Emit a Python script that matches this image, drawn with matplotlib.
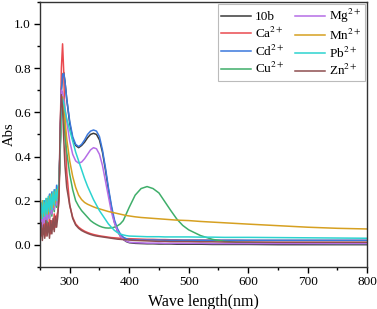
import matplotlib
matplotlib.use("Agg")
import matplotlib.pyplot as plt
from matplotlib.ticker import MultipleLocator

plt.rcParams['font.family'] = ['Liberation Serif', 'DejaVu Serif']
plt.rcParams['mathtext.fontset'] = 'stix'

# wavelength grid (nm)
wl_noise = [250, 252, 254, 256, 258, 260, 262, 264, 266, 268, 270, 272, 274, 276, 278, 280, 282]
wl_main = [284, 286, 288, 290, 292, 295, 300, 305, 310, 315, 320, 325, 330, 335, 340, 345,
           350, 355, 360, 365, 370, 375, 380, 385, 390, 395, 400, 410, 420, 430, 440, 450,
           460, 470, 480, 490, 500, 520, 540, 560, 580, 600, 650, 700, 750, 800]
wavelength = wl_noise + wl_main

abs_10b = ([0.13, 0.17, 0.10, 0.18, 0.12, 0.19, 0.13, 0.20, 0.14, 0.22, 0.16, 0.23, 0.17, 0.24, 0.19, 0.25, 0.27] +
           [0.45, 0.70, 0.77, 0.78, 0.74, 0.66, 0.55, 0.48, 0.45, 0.44, 0.45, 0.465, 0.485, 0.50, 0.505, 0.50,
            0.475, 0.42, 0.34, 0.25, 0.17, 0.105, 0.065, 0.04, 0.025, 0.015, 0.010, 0.007, 0.006, 0.005, 0.005, 0.004,
            0.004, 0.004, 0.003, 0.003, 0.003, 0.003, 0.002, 0.002, 0.002, 0.002, 0.001, 0.001, 0.001, 0.001])
abs_ca = ([0.09, 0.04, 0.11, 0.05, 0.12, 0.04, 0.10, 0.06, 0.13, 0.05, 0.11, 0.07, 0.14, 0.08, 0.13, 0.15, 0.20] +
          [0.50, 0.80, 0.91, 0.78, 0.55, 0.33, 0.18, 0.125, 0.095, 0.08, 0.07, 0.062, 0.056, 0.051, 0.047, 0.044,
           0.041, 0.039, 0.037, 0.035, 0.033, 0.032, 0.031, 0.030, 0.029, 0.028, 0.028, 0.027, 0.026, 0.025, 0.025, 0.024,
           0.024, 0.023, 0.023, 0.022, 0.022, 0.022, 0.021, 0.021, 0.021, 0.020, 0.020, 0.020, 0.020, 0.020])
abs_cd = ([0.16, 0.11, 0.19, 0.12, 0.20, 0.13, 0.21, 0.15, 0.23, 0.16, 0.24, 0.18, 0.25, 0.19, 0.27, 0.21, 0.28] +
          [0.45, 0.70, 0.77, 0.775, 0.74, 0.66, 0.56, 0.49, 0.455, 0.445, 0.455, 0.475, 0.50, 0.515, 0.52, 0.515,
           0.49, 0.43, 0.35, 0.26, 0.18, 0.115, 0.075, 0.05, 0.035, 0.028, 0.024, 0.023, 0.022, 0.022, 0.022, 0.022,
           0.021, 0.021, 0.021, 0.021, 0.021, 0.021, 0.021, 0.021, 0.021, 0.021, 0.021, 0.021, 0.021, 0.021])
abs_cu = ([0.11, 0.16, 0.09, 0.17, 0.11, 0.16, 0.10, 0.18, 0.12, 0.19, 0.13, 0.20, 0.15, 0.22, 0.17, 0.23, 0.25] +
          [0.42, 0.58, 0.63, 0.58, 0.50, 0.42, 0.32, 0.25, 0.20, 0.175, 0.155, 0.14, 0.125, 0.11, 0.10, 0.092,
           0.085, 0.080, 0.077, 0.076, 0.077, 0.080, 0.086, 0.095, 0.11, 0.14, 0.17, 0.225, 0.255, 0.264, 0.255, 0.235,
           0.195, 0.155, 0.117, 0.088, 0.068, 0.042, 0.025, 0.016, 0.012, 0.010, 0.008, 0.007, 0.006, 0.006])
abs_mg = ([0.10, 0.15, 0.08, 0.16, 0.10, 0.17, 0.11, 0.19, 0.12, 0.20, 0.14, 0.21, 0.16, 0.23, 0.18, 0.24, 0.26] +
          [0.50, 0.70, 0.69, 0.66, 0.62, 0.56, 0.47, 0.41, 0.38, 0.37, 0.375, 0.39, 0.41, 0.43, 0.44, 0.435,
           0.41, 0.36, 0.29, 0.22, 0.15, 0.10, 0.065, 0.04, 0.025, 0.017, 0.012, 0.010, 0.009, 0.008, 0.008, 0.008,
           0.007, 0.007, 0.007, 0.007, 0.007, 0.007, 0.006, 0.006, 0.006, 0.006, 0.006, 0.006, 0.006, 0.006])
abs_mn = ([0.18, 0.12, 0.20, 0.13, 0.19, 0.14, 0.21, 0.14, 0.22, 0.16, 0.23, 0.17, 0.24, 0.19, 0.25, 0.21, 0.27] +
          [0.45, 0.62, 0.67, 0.63, 0.57, 0.48, 0.38, 0.31, 0.26, 0.225, 0.205, 0.192, 0.184, 0.178, 0.172, 0.167,
           0.163, 0.159, 0.155, 0.151, 0.148, 0.145, 0.142, 0.139, 0.136, 0.133, 0.131, 0.127, 0.124, 0.122, 0.120, 0.118,
           0.116, 0.114, 0.112, 0.111, 0.110, 0.106, 0.103, 0.100, 0.097, 0.094, 0.087, 0.080, 0.075, 0.072])
abs_pb = ([0.12, 0.19, 0.12, 0.20, 0.13, 0.21, 0.14, 0.22, 0.15, 0.23, 0.16, 0.24, 0.18, 0.25, 0.20, 0.26, 0.28] +
          [0.45, 0.62, 0.66, 0.64, 0.61, 0.57, 0.52, 0.47, 0.42, 0.38, 0.34, 0.30, 0.265, 0.235, 0.205, 0.18,
           0.155, 0.135, 0.115, 0.095, 0.08, 0.066, 0.056, 0.049, 0.045, 0.042, 0.040, 0.039, 0.038, 0.037, 0.037, 0.037,
           0.036, 0.036, 0.036, 0.036, 0.036, 0.035, 0.035, 0.034, 0.034, 0.034, 0.033, 0.032, 0.031, 0.030])
abs_zn = ([0.05, 0.10, 0.02, 0.09, 0.03, 0.11, 0.04, 0.10, 0.03, 0.11, 0.05, 0.12, 0.06, 0.13, 0.08, 0.13, 0.22] +
          [0.55, 0.68, 0.62, 0.48, 0.36, 0.26, 0.18, 0.12, 0.09, 0.075, 0.065, 0.058, 0.052, 0.047, 0.043, 0.040,
           0.038, 0.036, 0.034, 0.032, 0.030, 0.028, 0.026, 0.025, 0.024, 0.023, 0.022, 0.020, 0.019, 0.018, 0.017, 0.016,
           0.016, 0.015, 0.015, 0.015, 0.015, 0.014, 0.014, 0.013, 0.013, 0.013, 0.012, 0.012, 0.012, 0.012])

labels = ['10b', r'Ca$^{2+}$', r'Cd$^{2+}$', r'Cu$^{2+}$',
          r'Mg$^{2+}$', r'Mn$^{2+}$', r'Pb$^{2+}$', r'Zn$^{2+}$']
series = [abs_10b, abs_ca, abs_cd, abs_cu, abs_mg, abs_mn, abs_pb, abs_zn]
colors = ['#3a3a3a', '#ea4a4f', '#3b78dc', '#3fae6a',
          '#b56ee6', '#d6a021', '#2cd3d0', '#8e4e50']

fig = plt.figure(figsize=(3.77, 3.09), dpi=100)
ax = fig.add_axes([0.106, 0.136, 0.868, 0.858])

for y, lab, c in zip(series, labels, colors):
    ax.plot(wavelength, y, color=c, lw=1.1, label=lab)

ax.set_xlim(250, 800)
ax.set_ylim(-0.1, 1.1)
ax.xaxis.set_major_locator(MultipleLocator(100))
ax.xaxis.set_minor_locator(MultipleLocator(50))
ax.yaxis.set_major_locator(MultipleLocator(0.2))
ax.yaxis.set_minor_locator(MultipleLocator(0.1))
ax.tick_params(which='major', direction='out', length=4, width=1, labelsize=9.5, pad=2.5)
ax.tick_params(which='minor', direction='out', length=2.5, width=1)
for s in ax.spines.values():
    s.set_linewidth(1.0)
    s.set_color('#333333')

ax.set_xlabel('Wave length(nm)', fontsize=11.5)
ax.set_ylabel('Abs', fontsize=10.5)
ax.yaxis.set_label_coords(-0.075, 0.5)

leg = ax.legend(ncol=2, loc='upper right', fontsize=9.5, frameon=True, fancybox=False,
                edgecolor='#aaaaaa', handlelength=2.3, columnspacing=0.8,
                labelspacing=0.2, handletextpad=0.3, borderaxespad=0.2,
                borderpad=0.2)
leg.get_frame().set_linewidth(0.8)

fig.savefig('out.png', dpi=100)
